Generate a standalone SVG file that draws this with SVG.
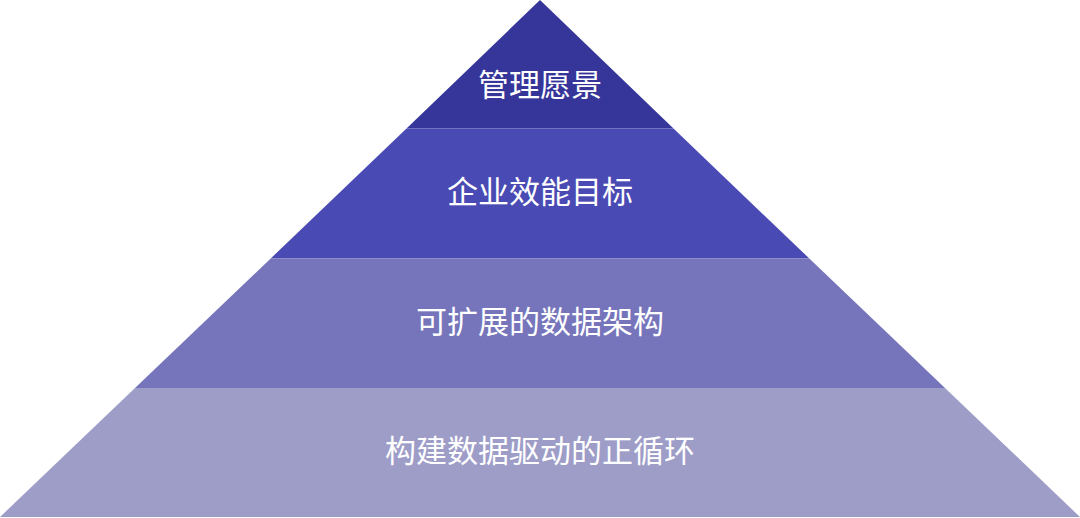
<svg xmlns="http://www.w3.org/2000/svg" width="1080" height="518" viewBox="0 0 1080 518">
<style>
.lbl{font-family:"Noto Sans CJK SC","Noto Sans",sans-serif;font-size:31px;font-weight:400;fill:#ffffff;text-anchor:middle}
</style>
<rect width="1080" height="518" fill="#ffffff"/>
<g id="layer1">
<polygon points="540,0 406.5,128.5 673.5,128.5" fill="#35359a"/>
<text class="lbl" x="540" y="96">管理愿景</text>
</g>
<g id="layer2">
<polygon points="406.5,128.5 673.5,128.5 809.3,258.5 270.7,258.5" fill="#4a4ab4"/>
<text class="lbl" x="540" y="203">企业效能目标</text>
</g>
<g id="layer3">
<polygon points="270.7,258.5 809.3,258.5 945,388 135,388" fill="#7675bb"/>
<text class="lbl" x="540" y="333">可扩展的数据架构</text>
</g>
<g id="layer4">
<polygon points="135,388 945,388 1080,517 0,517" fill="#9e9dc8"/>
<text class="lbl" x="540" y="462">构建数据驱动的正循环</text>
</g>
<g id="connectors"/>
</svg>
